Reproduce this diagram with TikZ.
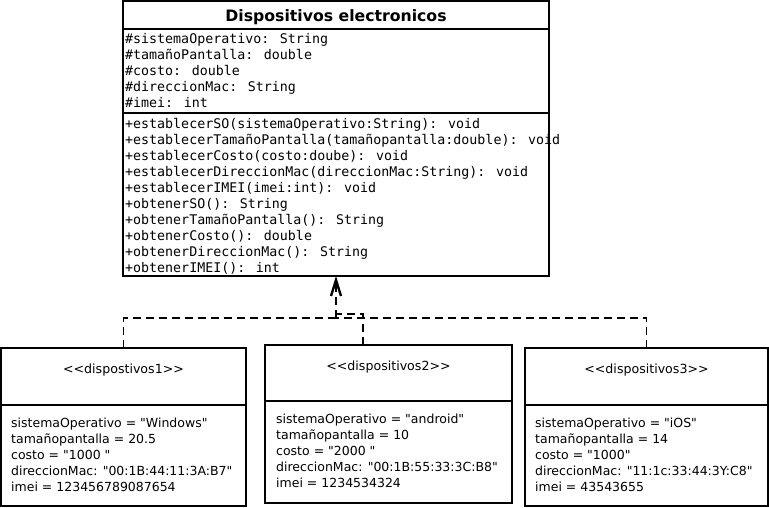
\documentclass[tikz,border=0pt]{standalone}
\usepackage{fontspec}
\newfontfamily\sansf{DejaVu Sans}
\newfontfamily\monof{DejaVu Sans Mono}
\usetikzlibrary{arrows.meta}
\begin{document}
\begin{tikzpicture}[x=1pt,y=-1pt,
  umlbox/.style={draw, line width=1.8pt, inner sep=0pt, outer sep=0pt, anchor=north west},
  sepline/.style={line width=1.8pt},
  monotext/.style={font=\monof\fontsize{13.3}{16}\selectfont, anchor=base west, inner sep=0pt},
  sanstext/.style={font=\sansf\fontsize{12.5}{16}\selectfont, anchor=base west, inner sep=0pt},
  stereo/.style={font=\sansf\fontsize{12.6}{16}\selectfont, anchor=base, inner sep=0pt},
  titletext/.style={font=\sansf\bfseries\fontsize{15.7}{18}\selectfont, anchor=base, inner sep=0pt},
  branch/.style={line width=1.7pt, dash pattern=on 8pt off 5pt},
  dep/.style={branch, -{Straight Barb[length=16pt,width=10pt,line width=2.4pt]}}
]
\useasboundingbox[fill=white] (0,0) rectangle (769,507);

% class box
\node[umlbox, minimum width=426pt, minimum height=275pt] (cls) at (123,1) {};
\draw[sepline] (123,29) -- (549,29);
\draw[sepline] (123,113) -- (549,113);
\node[titletext] (title) at (336,21) {Dispositivos electronicos};
\foreach \t [count=\i] in {\#sistemaOperativo: String,\#tamañoPantalla: double,\#costo: double,\#direccionMac: String,\#imei: int}
  \node[monotext] (attr\i) at (125,{27+16*\i}) {\t};
\foreach \t [count=\i] in {+establecerSO(sistemaOperativo:String): void,+establecerTamañoPantalla(tamañopantalla:double): void,+establecerCosto(costo:doube): void,+establecerDireccionMac(direccionMac:String): void,+establecerIMEI(imei:int): void,+obtenerSO(): String,+obtenerTamañoPantalla(): String,+obtenerCosto(): double,+obtenerDireccionMac(): String,+obtenerIMEI(): int}
  \node[monotext] (meth\i) at (125,{112+16*\i}) {\t};

% instance boxes
\node[umlbox, minimum width=245pt, minimum height=158pt] (b1) at (1,348) {};
\draw[sepline] (1,405) -- (246,405);
\node[stereo] (s1) at (123.5,373) {<{}<dispostivos1>{}>};
\foreach \t [count=\i] in {sistemaOperativo = "Windows",tamañopantalla = 20.5,costo = "1000 ",direccionMac: "00:1B:44:11:3A:B7",imei = 123456789087654}
  \node[sanstext] (ba\i) at (11,{411+16*\i}) {\t};

\node[umlbox, minimum width=247pt, minimum height=158pt] (b2) at (265,345) {};
\draw[sepline] (265,401) -- (512,401);
\node[stereo] (s2) at (388.5,370) {<{}<dispositivos2>{}>};
\foreach \t [count=\i] in {sistemaOperativo = "android",tamañopantalla = 10,costo = "2000 ",direccionMac: "00:1B:55:33:3C:B8",imei = 1234534324}
  \node[sanstext] (bb\i) at (276,{407+16*\i}) {\t};

\node[umlbox, minimum width=243pt, minimum height=158pt] (b3) at (525,348) {};
\draw[sepline] (525,405) -- (768,405);
\node[stereo] (s3) at (646.5,373) {<{}<dispositivos3>{}>};
\foreach \t [count=\i] in {sistemaOperativo = "iOS",tamañopantalla = 14,costo = "1000",direccionMac: "11:1c:33:44:3Y:C8",imei = 43543655}
  \node[sanstext] (bc\i) at (535,{411+16*\i}) {\t};

% connectors
\coordinate (j1) at (336,318);
\coordinate (j2) at (336,314);
\draw[branch] (b1.north) |- (j1);
\draw[branch] (b3.north) |- (j1);
\draw[branch] ([xshift=-25.5pt]b2.north) |- (j2);
\draw[dep] (j1) -- (cls.south);
\end{tikzpicture}
\end{document}
